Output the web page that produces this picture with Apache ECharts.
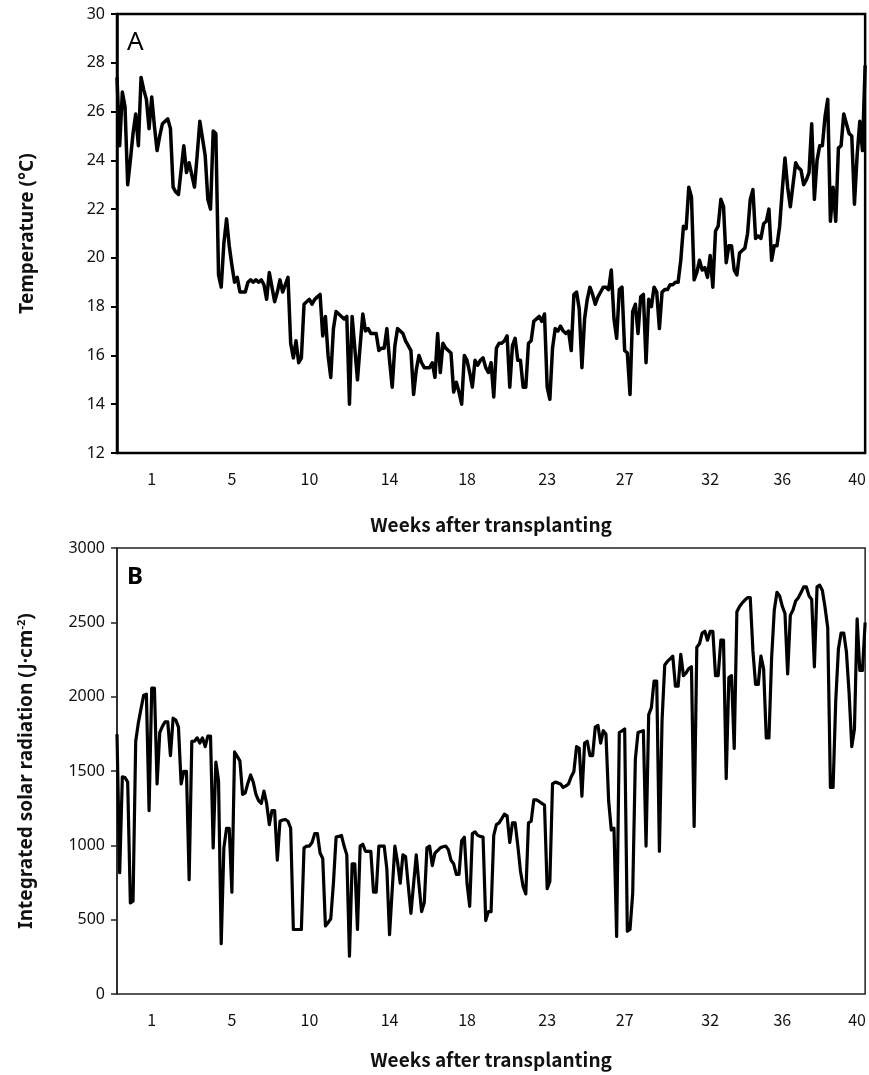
<!DOCTYPE html>
<html>
<head>
<meta charset="utf-8">
<script src="https://cdn.jsdelivr.net/npm/echarts@6/dist/echarts.min.js"></script>
<style>
  html, body { margin: 0; padding: 0; background: #fff; }
  #chart { width: 869px; height: 1075px; }
</style>
</head>
<body>
<div id="chart"></div>
<script>
// daily mean temperature (°C), day 0 .. 280 after transplanting
const temperature = [
  27.4, 24.6, 26.8, 26.2, 23.0, 24.0, 25.1, 25.9, 24.6, 27.4,
  26.9, 26.5, 25.3, 26.6, 25.4, 24.4, 25.0, 25.5, 25.6, 25.7,
  25.3, 22.9, 22.7, 22.6, 23.6, 24.6, 23.5, 23.9, 23.4, 22.9,
  24.2, 25.6, 24.9, 24.2, 22.4, 22.0, 25.2, 25.1, 19.3, 18.8,
  20.6, 21.6, 20.5, 19.7, 19.0, 19.2, 18.6, 18.6, 18.6, 19.0,
  19.1, 19.0, 19.1, 19.0, 19.1, 18.9, 18.3, 19.4, 18.8, 18.2,
  18.6, 19.1, 18.6, 18.9, 19.2, 16.5, 15.9, 16.6, 15.7, 15.9,
  18.1, 18.2, 18.3, 18.1, 18.3, 18.4, 18.5, 16.8, 17.6, 16.0,
  15.1, 17.1, 17.8, 17.7, 17.6, 17.5, 17.6, 14.0, 17.6, 16.3,
  15.0, 16.4, 17.7, 17.0, 17.1, 16.9, 16.9, 16.9, 16.2, 16.3,
  16.3, 17.1, 15.8, 14.7, 16.4, 17.1, 17.0, 16.9, 16.6, 16.4,
  16.2, 14.4, 15.4, 16.0, 15.7, 15.5, 15.5, 15.5, 15.7, 15.1,
  16.9, 15.3, 16.5, 16.3, 16.2, 16.1, 14.5, 14.9, 14.5, 14.0,
  16.0, 15.8, 15.3, 14.7, 15.8, 15.6, 15.8, 15.9, 15.5, 15.3,
  15.7, 14.3, 16.3, 16.5, 16.5, 16.6, 16.8, 14.7, 16.4, 16.7,
  15.8, 15.8, 14.7, 14.7, 16.5, 16.6, 17.4, 17.5, 17.6, 17.4,
  17.7, 14.7, 14.2, 16.3, 17.1, 17.0, 17.2, 17.0, 16.9, 17.0,
  16.2, 18.5, 18.6, 17.9, 15.5, 17.5, 18.3, 18.8, 18.5, 18.1,
  18.4, 18.6, 18.8, 18.8, 18.7, 19.5, 17.5, 16.7, 18.7, 18.8,
  16.2, 16.1, 14.4, 17.8, 18.1, 16.9, 18.4, 18.5, 15.7, 18.3,
  18.0, 18.8, 18.6, 17.1, 18.6, 18.7, 18.7, 18.9, 18.9, 19.0,
  19.0, 19.9, 21.3, 21.2, 22.9, 22.5, 19.1, 19.4, 19.9, 19.5,
  19.6, 19.2, 20.1, 18.8, 21.1, 21.3, 22.4, 22.1, 19.8, 20.5,
  20.5, 19.5, 19.3, 20.2, 20.3, 20.4, 21.0, 22.4, 22.8, 20.8,
  20.9, 20.8, 21.4, 21.5, 22.0, 19.9, 20.5, 20.5, 21.3, 22.8,
  24.1, 22.9, 22.1, 23.0, 23.9, 23.7, 23.6, 23.0, 23.2, 23.5,
  25.5, 22.4, 24.0, 24.6, 24.6, 25.8, 26.5, 21.5, 22.9, 21.5,
  24.5, 24.6, 25.9, 25.5, 25.1, 25.0, 22.2, 24.2, 25.6, 24.4,
  27.9
];

// daily integrated solar radiation (J·cm-2), day 0 .. 280
const radiation = [
  1747, 816, 1461, 1456, 1425, 613, 625, 1700, 1825, 1920,
  2010, 2017, 1234, 2058, 2058, 1413, 1759, 1800, 1831, 1831,
  1604, 1855, 1843, 1795, 1413, 1497, 1497, 769, 1700, 1700,
  1723, 1688, 1723, 1664, 1735, 1735, 983, 1560, 1437, 339,
  983, 1115, 1115, 685, 1628, 1598, 1568, 1342, 1353, 1420,
  1473, 1425, 1342, 1300, 1282, 1365, 1282, 1139, 1234, 1234,
  900, 1162, 1170, 1174, 1162, 1115, 434, 434, 434, 434,
  983, 995, 995, 1019, 1079, 1079, 948, 912, 458, 480,
  506, 745, 1055, 1060, 1067, 995, 936, 255, 876, 876,
  434, 995, 1007, 960, 960, 960, 685, 685, 995, 995,
  995, 840, 399, 700, 995, 888, 745, 936, 924, 730,
  542, 740, 936, 740, 554, 613, 983, 995, 864, 948,
  965, 983, 990, 995, 971, 900, 876, 804, 804, 1031,
  1055, 745, 590, 1079, 1091, 1067, 1060, 1055, 494, 554,
  554, 1067, 1139, 1151, 1180, 1210, 1198, 1019, 1151, 1151,
  1000, 828, 721, 673, 1151, 1162, 1306, 1306, 1295, 1282,
  1270, 709, 757, 1413, 1425, 1420, 1413, 1389, 1400, 1413,
  1461, 1497, 1664, 1652, 1330, 1688, 1700, 1604, 1604, 1795,
  1807, 1688, 1771, 1747, 1300, 1103, 1115, 387, 1759, 1770,
  1783, 422, 434, 673, 1580, 1759, 1765, 1771, 995, 1879,
  1926, 2105, 2105, 960, 1843, 2213, 2237, 2255, 2273, 2070,
  2070, 2285, 2141, 2160, 2189, 2201, 1127, 2332, 2356, 2428,
  2440, 2380, 2440, 2440, 2141, 2141, 2380, 2380, 1449, 2129,
  2141, 1652, 2571, 2607, 2631, 2650, 2666, 2666, 2308, 2082,
  2082, 2273, 2189, 1723, 1723, 2261, 2583, 2702, 2678, 2607,
  2559, 2153, 2547, 2583, 2643, 2666, 2700, 2738, 2738, 2678,
  2654, 2201, 2738, 2750, 2714, 2600, 2464, 1389, 1389, 1974,
  2320, 2428, 2428, 2300, 2022, 1664, 1783, 2523, 2177, 2177,
  2499
];

// x axis tick labels (week) and the day they sit on
const weekLabels = ['1', '5', '10', '14', '18', '23', '27', '32', '36', '40'];
const weekLabelDays = [13, 43, 72, 102, 131, 161, 190, 222, 249, 277];

const days = temperature.map((v, i) => String(i));

const chart = echarts.init(document.getElementById('chart'));

function xAxisFor(gridIndex, nameGap) {
  return {
    type: 'category',
    gridIndex: gridIndex,
    data: days,
    boundaryGap: false,
    name: 'Weeks after transplanting',
    nameLocation: 'middle',
    nameGap: nameGap,
    nameTextStyle: { fontSize: 19, fontWeight: 'bold', color: '#111', fontFamily: 'Noto Sans CJK KR' },
    axisLine: { show: false },
    axisTick: { show: false },
    axisLabel: {
      interval: (idx) => weekLabelDays.indexOf(idx) >= 0,
      formatter: (val, idx) => weekLabels[weekLabelDays.indexOf(idx)],
      fontSize: 16,
      color: '#111',
      margin: 18,
      fontFamily: 'Noto Sans CJK KR'
    },
    splitLine: { show: false }
  };
}

const option = {
  backgroundColor: '#fff',
  animation: false,
  grid: [
    { left: 117, right: 3, top: 14, height: 439, show: true, borderColor: '#000', borderWidth: 2.5 },
    { left: 117, right: 3, top: 548, height: 446, show: true, borderColor: '#222', borderWidth: 1.5 }
  ],
  xAxis: [xAxisFor(0, 62), xAxisFor(1, 56)],
  yAxis: [
    {
      type: 'value',
      gridIndex: 0,
      min: 12,
      max: 30,
      interval: 2,
      name: 'Temperature (°C)',
      nameLocation: 'middle',
      nameGap: 80,
      nameTextStyle: { fontSize: 19, fontWeight: 'bold', color: '#111', fontFamily: 'Noto Sans' },
      axisLine: { show: true, lineStyle: { color: '#000', width: 2.5 } },
      axisTick: { show: true, length: 6, lineStyle: { color: '#000', width: 2 } },
      axisLabel: { fontSize: 16, color: '#111', margin: 12, fontFamily: 'Noto Sans' },
      splitLine: { show: false }
    },
    {
      type: 'value',
      gridIndex: 1,
      min: 0,
      max: 3000,
      interval: 500,
      name: 'Integrated solar radiation (J·cm{sup|-2})',
      nameLocation: 'middle',
      nameGap: 80,
      nameTextStyle: {
        fontSize: 19, fontWeight: 'bold', color: '#111', fontFamily: 'Noto Sans',
        rich: { sup: { fontSize: 11, fontWeight: 'bold', color: '#111', verticalAlign: 'top', padding: [0, 0, 10, 0] } }
      },
      axisLine: { show: true, lineStyle: { color: '#222', width: 1.5 } },
      axisTick: { show: true, length: 6, lineStyle: { color: '#222', width: 1.5 } },
      axisLabel: { fontSize: 16, color: '#111', margin: 12, fontFamily: 'Noto Sans', formatter: (v) => String(v) },
      splitLine: { show: false }
    }
  ],
  graphic: [
    { type: 'text', left: 127, top: 30, style: { text: 'A', fontSize: 26, fontFamily: 'Noto Sans', fill: '#000' } },
    { type: 'text', left: 127, top: 565, style: { text: 'B', fontSize: 24, fontWeight: 'bold', fontFamily: 'Noto Sans', fill: '#000' } }
  ],
  series: [
    {
      type: 'line',
      xAxisIndex: 0,
      yAxisIndex: 0,
      data: temperature,
      showSymbol: false,
      lineStyle: { color: '#000', width: 3.5, join: 'round' }
    },
    {
      type: 'line',
      xAxisIndex: 1,
      yAxisIndex: 1,
      data: radiation,
      showSymbol: false,
      lineStyle: { color: '#000', width: 3.2, join: 'round' }
    }
  ]
};

chart.setOption(option);
</script>
</body>
</html>
